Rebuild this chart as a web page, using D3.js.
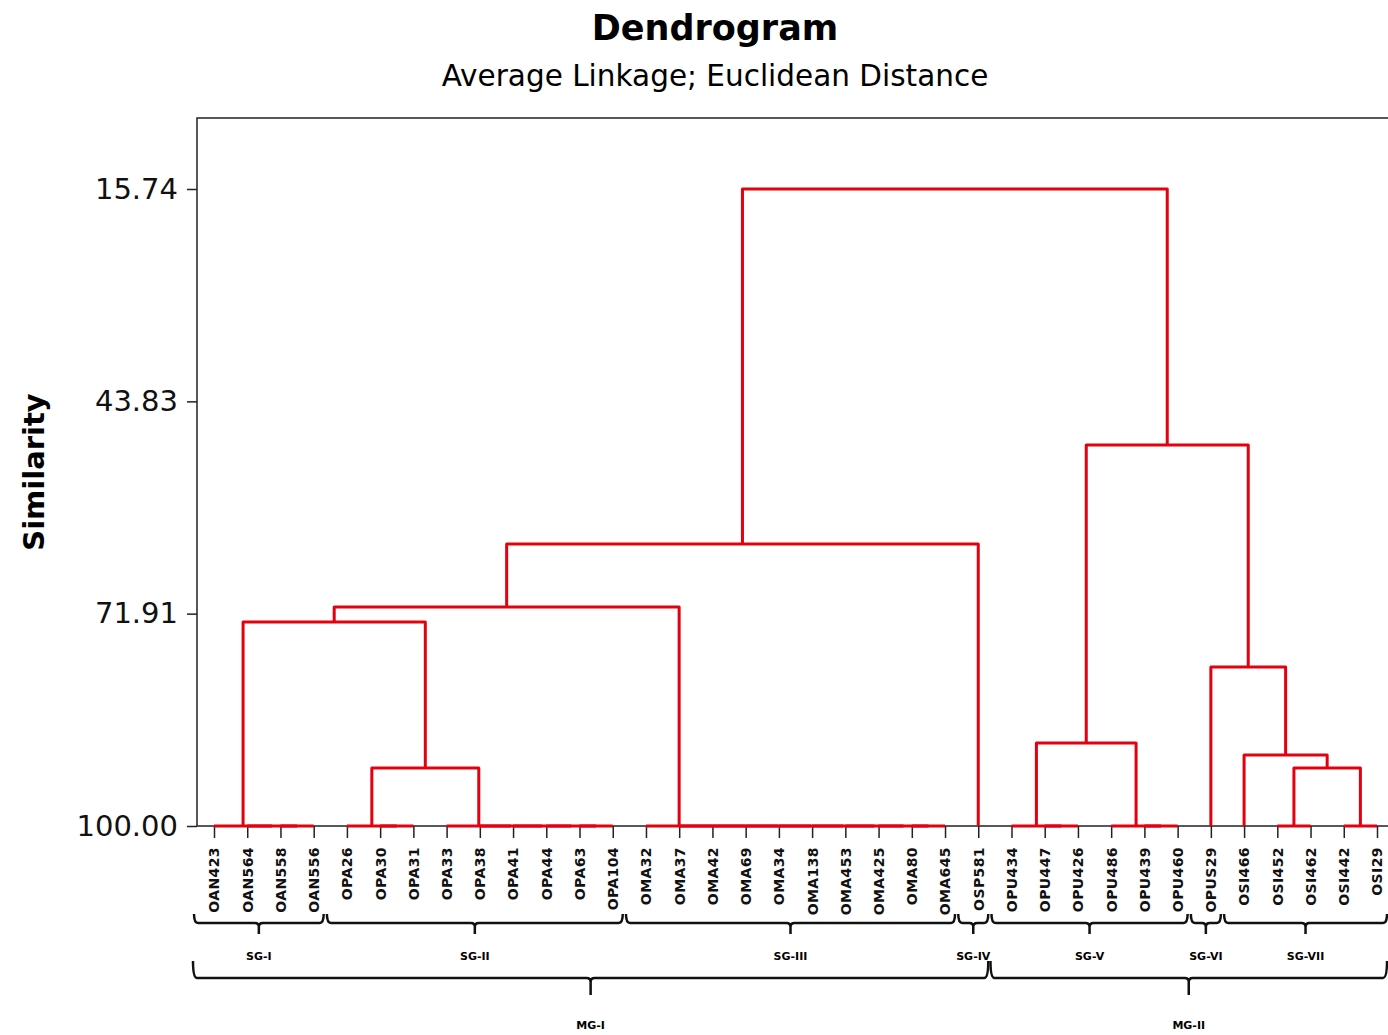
<!DOCTYPE html>
<html>
<head>
<meta charset="utf-8">
<script src="https://cdn.jsdelivr.net/npm/d3@7"></script>
<style>
  body { margin: 0; background: #fff; }
  svg { display: block; font-family: "DejaVu Sans", sans-serif; }
</style>
</head>
<body>
<div id="chart"></div>
<script>
// leaf order as shown on the x axis
const leaves = [
  "OAN423", "OAN564", "OAN558", "OAN556",
  "OPA26", "OPA30", "OPA31", "OPA33", "OPA38", "OPA41", "OPA44", "OPA63", "OPA104",
  "OMA32", "OMA37", "OMA42", "OMA69", "OMA34", "OMA138", "OMA453", "OMA425", "OMA80", "OMA645",
  "OSP581",
  "OPU434", "OPU447", "OPU426", "OPU486", "OPU439", "OPU460",
  "OPUS29",
  "OSI466", "OSI452", "OSI462", "OSI442", "OSI29"
]

// linkage: [child a, child b, similarity]; new clusters numbered from leaves.length
const merges = [
  [2, 3, 100], [1, 36, 100], [0, 37, 100],
  [5, 6, 100], [4, 39, 100],
  [11, 12, 100], [10, 41, 100], [9, 42, 100], [8, 43, 100], [7, 44, 100],
  [21, 22, 100], [20, 46, 100], [19, 47, 100], [18, 48, 100], [17, 49, 100],
  [16, 50, 100], [15, 51, 100], [14, 52, 100], [13, 53, 100],
  [25, 26, 100], [24, 55, 100],
  [28, 29, 100], [27, 57, 100],
  [32, 33, 100], [34, 35, 100],
  [40, 45, 92.33],
  [59, 60, 92.33],
  [31, 62, 90.61],
  [56, 58, 89.02],
  [30, 63, 78.96],
  [38, 61, 73.01],
  [66, 54, 71.02],
  [67, 23, 62.69],
  [64, 65, 49.59],
  [68, 69, 15.74]
]

const yTicks = [15.74, 43.83, 71.91, 100.00]

const subgroupNames = ["SG-I", "SG-II", "SG-III", "SG-IV", "SG-V", "SG-VI", "SG-VII"]
const subgroupSpans = [[0, 3], [4, 12], [13, 22], [23, 23], [24, 29], [30, 30], [31, 35]]
const maingroupNames = ["MG-I", "MG-II"]
const maingroupSpans = [[0, 23], [24, 35]]

const W = 1388, H = 1035
const plot = { left: 197, top: 118, bottom: 826, right: 1393 }

const svg = d3.select('#chart').append('svg')
  .attr('width', W)
  .attr('height', H)

const x = d3.scalePoint()
  .domain(leaves)
  .range([214, 1377])

const y = d3.scaleLinear()
  .domain([100, 15.74])
  .range([plot.bottom, 189])

// titles
svg.append('text')
  .attr('x', 715).attr('y', 40)
  .attr('text-anchor', 'middle')
  .style('font-size', '35px').style('font-weight', 'bold')
  .text('Dendrogram')

svg.append('text')
  .attr('x', 715).attr('y', 86)
  .attr('text-anchor', 'middle')
  .style('font-size', '29.5px')
  .text('Average Linkage; Euclidean Distance')

svg.append('text')
  .attr('transform', 'translate(44,472) rotate(-90)')
  .attr('text-anchor', 'middle')
  .style('font-size', '29px').style('font-weight', 'bold')
  .text('Similarity')

// frame
svg.append('rect')
  .attr('x', plot.left).attr('y', plot.top)
  .attr('width', plot.right - plot.left)
  .attr('height', plot.bottom - plot.top)
  .attr('fill', 'none')
  .attr('stroke', '#222')
  .attr('stroke-width', 1.5)

// y axis
const yAxis = svg.append('g')
  .attr('transform', 'translate(' + plot.left + ',0)')
  .call(d3.axisLeft(y).tickValues(yTicks).tickFormat(d3.format('.2f')).tickSize(10).tickPadding(9))
yAxis.select('.domain').remove()
yAxis.selectAll('line').attr('stroke', '#222').attr('stroke-width', 1.5)
yAxis.selectAll('text')
  .style('font-size', '29px')
  .style('font-family', '"DejaVu Sans", sans-serif')
  .attr('fill', '#111')

// x axis with leaf labels
const xAxis = svg.append('g')
  .attr('transform', 'translate(0,' + plot.bottom + ')')
  .call(d3.axisBottom(x).tickSize(12).tickSizeOuter(0))
xAxis.select('.domain').remove()
xAxis.selectAll('line').attr('stroke', '#222').attr('stroke-width', 1.5)
xAxis.selectAll('text')
  .style('font-size', '14px')
  .style('font-weight', 'bold')
  .style('letter-spacing', '0.4px')
  .style('font-family', '"DejaVu Sans", sans-serif')
  .attr('fill', '#111')
  .attr('text-anchor', 'end')
  .attr('transform', 'rotate(-90)')
  .attr('x', -21)
  .attr('y', 0)
  .attr('dy', '0.35em')

// dendrogram links
const nodes = leaves.map(d => ({ x: x(d), s: 100 }))
const links = []
merges.forEach(m => {
  const a = nodes[m[0]], b = nodes[m[1]]
  links.push({ a: a, b: b, s: m[2] })
  nodes.push({ x: (a.x + b.x) / 2, s: m[2] })
})

svg.append('g')
  .attr('class', 'links')
  .selectAll('path')
  .data(links)
  .enter()
  .append('path')
  .attr('d', d => 'M' + d.a.x + ',' + y(d.a.s) + 'V' + y(d.s) + 'H' + d.b.x + 'V' + y(d.b.s))
  .attr('fill', 'none')
  .attr('stroke', '#e3000f')
  .attr('stroke-width', 3)
  .attr('stroke-linejoin', 'round')

// group braces
function brace(g, x0, x1, yTop, yLine, yNotch) {
  const xm = (x0 + x1) / 2
  const r = 4
  g.append('path')
    .attr('d', 'M' + x0 + ',' + yTop + 'Q' + x0 + ',' + yLine + ' ' + (x0 + r) + ',' + yLine +
      'H' + (xm - r) + 'Q' + xm + ',' + yLine + ' ' + xm + ',' + (yLine + r) + 'V' + yNotch +
      'M' + xm + ',' + (yLine + r) + 'Q' + xm + ',' + yLine + ' ' + (xm + r) + ',' + yLine +
      'H' + (x1 - r) + 'Q' + x1 + ',' + yLine + ' ' + x1 + ',' + yTop)
    .attr('fill', 'none')
    .attr('stroke', '#111')
    .attr('stroke-width', 2.5)
  return xm
}

const groups = svg.append('g').attr('class', 'groups')

subgroupSpans.forEach((sp, i) => {
  const xm = brace(groups, x(leaves[sp[0]]) - 20, x(leaves[sp[1]]) + 10, 914, 923, 934)
  groups.append('text')
    .attr('x', xm).attr('y', 960)
    .attr('text-anchor', 'middle')
    .style('font-size', '11px').style('font-weight', 'bold')
    .text(subgroupNames[i])
})

maingroupSpans.forEach((sp, i) => {
  const xm = brace(groups, x(leaves[sp[0]]) - 21, x(leaves[sp[1]]) + 10, 961, 978, 995)
  groups.append('text')
    .attr('x', xm).attr('y', 1029)
    .attr('text-anchor', 'middle')
    .style('font-size', '11px').style('font-weight', 'bold')
    .text(maingroupNames[i])
})
</script>
</body>
</html>
